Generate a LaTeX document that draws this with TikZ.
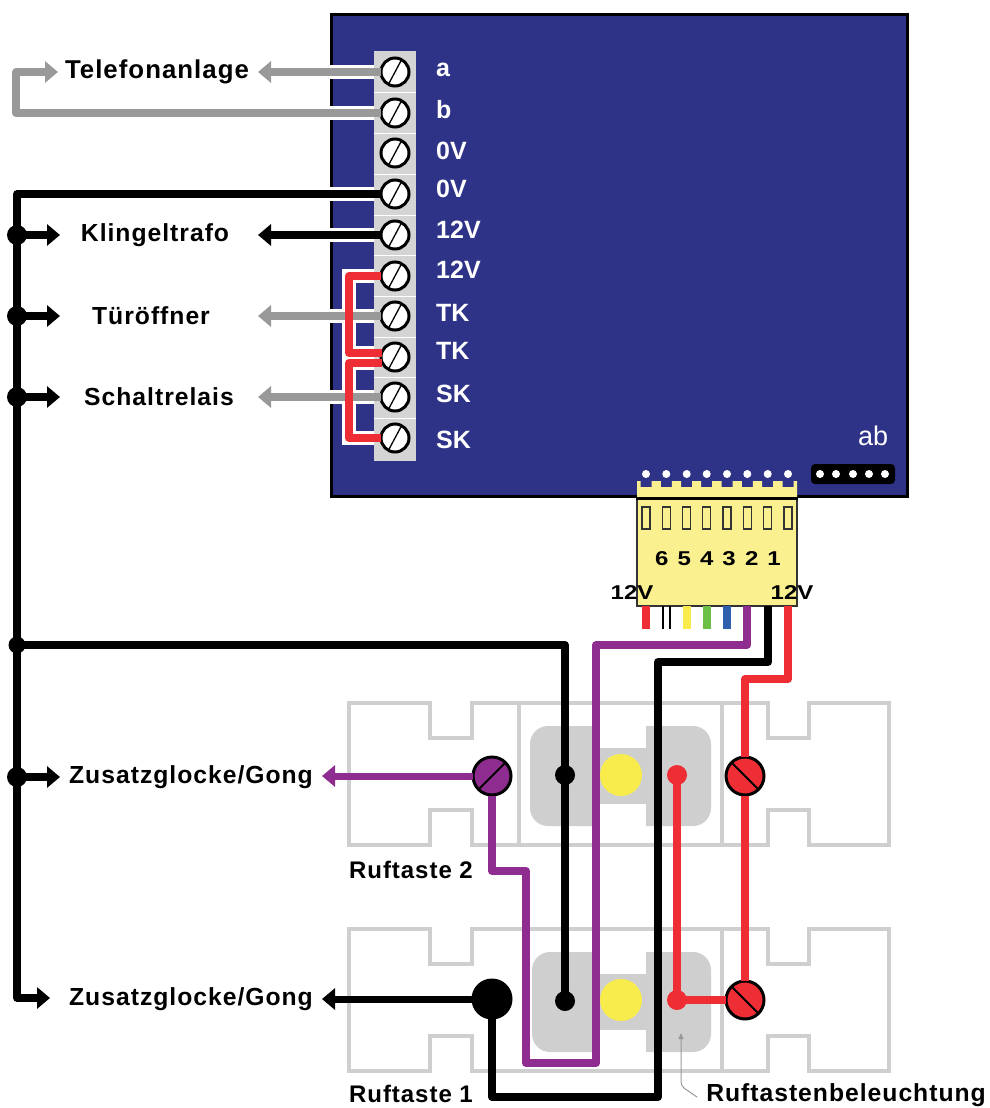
\documentclass[tikz,border=0pt]{standalone}
\usepackage{fontspec}
\setmainfont{Liberation Sans}
\newfontfamily\widefont[FakeStretch=1.2]{Liberation Sans}
\usetikzlibrary{arrows.meta,calc}
\definecolor{board}{HTML}{2E3388}
\definecolor{wgrey}{HTML}{999999}
\definecolor{wred}{HTML}{EE2D35}
\definecolor{wpurple}{HTML}{8E2C90}
\definecolor{plate}{HTML}{CFCFCF}
\definecolor{stripc}{HTML}{D4D4D4}
\definecolor{conn}{HTML}{FAF08F}
\definecolor{lamp}{HTML}{F8EC4C}
\definecolor{wgreen}{HTML}{6DBE45}
\definecolor{wblue}{HTML}{2E5FAC}
\tikzset{
  screw/.style={circle,draw=black,line width=3pt,fill=white,minimum size=28pt,inner sep=0pt,outer sep=0.5pt,
    path picture={\draw[black,line width=1.3pt] ($(path picture bounding box.center)+(-8,15)$) -- ($(path picture bounding box.center)+(8,-15)$);}},
  bigscrew/.style={circle,draw=black,line width=3pt,minimum size=38pt,inner sep=0pt,outer sep=0.5pt},
  slashR/.style={path picture={\draw[black,line width=2pt] ($(path picture bounding box.center)+(-16,16)$) -- ($(path picture bounding box.center)+(16,-16)$);}},
  slashL/.style={path picture={\draw[black,line width=2pt] ($(path picture bounding box.center)+(-16,-16)$) -- ($(path picture bounding box.center)+(16,16)$);}},
  wire/.style={line width=7.5pt,line join=round},
  fatwire/.style={line width=8pt,line join=round},
  halo/.style={white,line width=13.5pt,line join=miter},
  head/.style={-{Triangle[length=13pt,width=21pt]}},
  lab/.style={font=\fontsize{24.7}{25}\bfseries\addfontfeatures{LetterSpace=4},black,inner sep=0pt},
  wlab/.style={font=\fontsize{25}{25}\bfseries,white,inner sep=0pt,anchor=west},
  dotj/.style={circle,fill=black,inner sep=0pt,outer sep=-1.5pt,minimum width=18pt,minimum height=20pt},
  pin/.style={circle,fill=white,inner sep=0pt,minimum size=8pt},
  slot/.style={draw=black!80,line width=1.5pt,fill=conn,inner sep=0pt,minimum width=8pt,minimum height=22pt},
  stub/.style={inner sep=0pt,minimum width=8pt,minimum height=23pt,anchor=north},
  num/.style={font=\widefont\fontsize{20}{20}\bfseries,black,inner sep=0pt},
  platel/.style={draw=plate,line width=4pt},
  lampn/.style={circle,fill=lamp,minimum size=42pt,inner sep=0pt}
}
\begin{document}
\begin{tikzpicture}[x=1pt,y=-1pt]
\useasboundingbox (0,0) rectangle (989,1108);
% board
\node[draw=black,line width=3.5pt,fill=board,minimum width=576pt,minimum height=482pt,inner sep=0pt] (boardbox) at (619.5,255.5) {};
\node[fill=stripc,minimum width=42pt,minimum height=410pt,inner sep=0pt] (strip) at (395,256) {};
\foreach \yy in {92,133,174,215,255,296,337,377,418}{ \draw[white,line width=1pt] (374,\yy) -- (416,\yy); }
% button plates
\foreach \yy/\xx in {0/530,226/532}{
  \begin{scope}[yshift=-\yy pt]
  \fill[plate,rounded corners=18pt] (\xx,726) rectangle (711,826);
  \fill[white] (596,724) rectangle (646,748);
  \fill[white] (596,804) rectangle (646,828);
  \draw[platel] (349,703) -- (430,703) -- (430,738) -- (472,738) -- (472,703) -- (768,703) -- (768,738) -- (809,738) -- (809,703) -- (889,703) -- (889,845) -- (809,845) -- (809,810) -- (768,810) -- (768,845) -- (472,845) -- (472,810) -- (430,810) -- (430,845) -- (349,845) -- cycle;
  \draw[platel] (722,703) -- (722,845);
  \end{scope}
}
\draw[platel] (519,703) -- (519,845);
% lamps
\node[lampn] (lamp2) at (621,775) {};
\node[lampn] (lamp1) at (621,1000) {};
% terminals
\foreach \i/\yy in {1/72,2/113,3/153,4/194,5/235,6/276,7/316,8/357,9/397,10/438}{
  \node[screw] (s\i) at (395,\yy) {};
}
% connector
\fill[conn] (637,497) -- (637,481) \foreach \x in {646,666.3,686.7,706.7,727,747.3,767.7,788}{ -- (\x-5.5,481) -- (\x-5.5,487) -- (\x+5.5,487) -- (\x+5.5,481)} -- (797,481) -- (797,497) -- cycle;
\node[draw=black!80,line width=1.5pt,fill=conn,minimum width=160pt,minimum height=107pt,inner sep=0pt] (connbody) at (717,552.5) {};
\draw[black,line width=3pt] (connbody.north west) -- (connbody.north east);
\foreach \x [count=\i] in {646,666.3,686.7,706.7,727,747.3,767.7,788}{
  \node[pin] (p\i) at (\x,474) {};
  \node[slot] (w\i) at (\x,518) {};
}
\foreach \x/\t in {661.7/6,684.3/5,706.7/4,729/3,751.7/2,774/1}{ \node[num] (n\t) at (\x,559) {\t}; }
\node[num] (v12l) at (632,593) {12V};
\node[num] (v12r) at (792,593) {12V};
% header
\node[fill=black,rounded corners=4pt,minimum width=84pt,minimum height=20pt,inner sep=0pt] (hdr) at (853,474) {};
\foreach \x [count=\i] in {820,836,853,869,885}{ \node[pin] (h\i) at (\x,474) {}; }
% stubs
\node[stub,fill=wred] (st1) at (646,606) {};
\node[stub,minimum width=2pt,fill=black] (st2a) at (662.5,606) {};
\node[stub,minimum width=2pt,fill=black] (st2b) at (669.5,606) {};
\node[stub,fill=lamp] (st3) at (686.7,606) {};
\node[stub,fill=wgreen] (st4) at (706.7,606) {};
\node[stub,fill=wblue] (st5) at (727,606) {};
% free coordinates
\coordinate (tA) at (258,72);
\coordinate (tB) at (58,72);
\coordinate (tK) at (258,235);
\coordinate (tT) at (258,316);
\coordinate (tS) at (258,397);
\coordinate (cP) at (747,606);
\coordinate (cB) at (768,606);
\coordinate (cR) at (788,606);
\coordinate (r6a) at (349,276);
\coordinate (r6b) at (349,353);
\coordinate (r6c) at (382,353);
\coordinate (r8a) at (382,363);
\coordinate (r8b) at (349,363);
\coordinate (r8c) at (349,438);
% screws on button plates
\node[bigscrew,fill=wpurple,slashR] (sp) at (492,776) {};
\node[bigscrew,fill=black] (sb) at (492,999) {};
\node[bigscrew,fill=wred,slashL] (sr2) at (745,776) {};
\node[bigscrew,fill=wred,slashL] (sr1) at (745,1000) {};
% white halos where wires cross the board
\begin{scope}
\clip (329,0) rectangle (374,500);
\draw[halo] (s1) -- (tA);
\draw[halo] (s2) -- (300,113);
\draw[halo] (s4) -- (300,194);
\draw[halo] (s5) -- (tK);
\draw[halo] (s7) -- (tT);
\draw[halo] (s9) -- (tS);
\draw[halo] (s6) -- (r6a) -- (r6b) -- (r6c);
\draw[halo] (r8a) -- (r8b) -- (r8c) -- (s10);
\end{scope}
\draw[wire,wgrey,head] (s1) -- (tA);
\draw[wire,wgrey,head] (s2) -- (16,113) -- (16,72) -- (tB);
\draw[wire,wgrey,head] (s7) -- (tT);
\draw[wire,wgrey,head] (s9) -- (tS);
\draw[wire,black,head] (s5) -- (tK);
\draw[wire,black,head] (s4) -- (17,194) -- (17,998) -- (50,998);
\foreach \i/\yy in {1/235,2/316,3/397,4/777}{
  \node[dotj] (j\i) at (17,\yy) {};
  \draw[wire,black,head] (j\i) -- (60,\yy);
}
\node[dotj,minimum width=15pt,minimum height=17pt] (j5) at (17,645) {};
\draw[wire,wred] (s6) -- (r6a) -- (r6b) -- (r6c);
\draw[wire,wred] (r8a) -- (r8b) -- (r8c) -- (s10);
% bottom wiring
\node[dotj] (d2) at (565,775) {};
\node[dotj] (d1) at (565,1001) {};
\node[dotj,fill=wred] (r2) at (677,775) {};
\node[dotj,fill=wred] (r1) at (677,1000) {};
\draw[fatwire,black] (j5) -| (d1);
\draw[fatwire,wred] (r2) -- (r1);
\draw[fatwire,wred] (r1) -- (sr1);
\draw[fatwire,wred] (cR) |- (745,679) -- (sr2);
\draw[fatwire,wred] (sr2) -- (sr1);
\draw[fatwire,black] (cB) |- (658,662) |- (492,1097) -- (sb);
\draw[fatwire,wpurple] (cP) |- (596,645) |- (526,1063) |- (492,871) -- (sp);
\draw[line width=7pt,wpurple,head] (sp) -- (322,776);
\draw[line width=7pt,black,head] (sb) -- (322,999);
% leader
\draw[wgrey,line width=1pt,rounded corners=4pt,-{Triangle[length=6pt,width=5pt]}] (697,1097) -- (681,1086) -- (681,1033);
% labels
\node[lab,font=\fontsize{25.8}{26}\bfseries\addfontfeatures{LetterSpace=4}] (lT) at (157,72) {Telefonanlage};
\node[lab] (lK) at (155,235) {Klingeltrafo};
\node[lab] (lTu) at (151,316) {Türöffner};
\node[lab] (lS) at (159,397) {Schaltrelais};
\node[lab] (lZ2) at (191,777) {Zusatzglocke/Gong};
\node[lab] (lZ1) at (191,999) {Zusatzglocke/Gong};
\node[lab,font=\fontsize{24}{25}\bfseries\addfontfeatures{LetterSpace=4}] (lR2) at (411,870) {Ruftaste 2};
\node[lab,font=\fontsize{24}{25}\bfseries\addfontfeatures{LetterSpace=4}] (lR1) at (411,1094) {Ruftaste 1};
\node[lab] (lB) at (846,1095) {Ruftastenbeleuchtung};
\foreach \t/\yy [count=\i] in {a/70,b/110,0V/151,0V/189,12V/230,12V/270,TK/313,TK/351,SK/394,SK/440}{
  \node[wlab] (t\i) at (436,\yy) {\t};
}
\node[wlab,font=\fontsize{27}{27}\selectfont] (lab) at (858,436) {ab};
\end{tikzpicture}
\end{document}
